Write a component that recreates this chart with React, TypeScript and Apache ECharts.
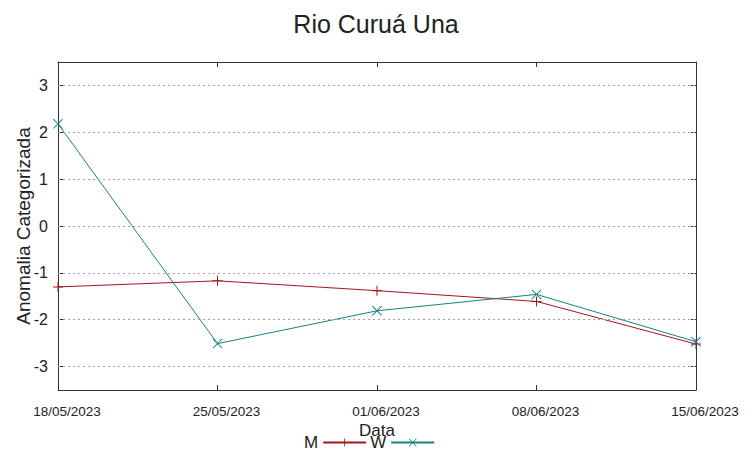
import React, { useEffect, useRef } from "react";
import * as echarts from "echarts";

const categories = ["18/05/2023", "25/05/2023", "01/06/2023", "08/06/2023", "15/06/2023"];
const seriesM = [-1.3, -1.17, -1.38, -1.61, -2.52];
const seriesW = [2.18, -2.51, -1.81, -1.46, -2.47];
const yTicks = [-3, -2, -1, 0, 1, 2, 3];

const PLUS = "path://M0,4.5H10V5.5H0Z M4.5,0H5.5V10H4.5Z";
const CROSS =
  "path://M0,0.7L0.7,0L5,4.3L9.3,0L10,0.7L5.7,5L10,9.3L9.3,10L5,5.7L0.7,10L0,9.3L4.3,5Z";

const FONT = "Liberation Sans, Arial, sans-serif";
const AXIS_COLOR = "#333";

export default function App() {
  const ref = useRef<HTMLDivElement>(null);
  useEffect(() => {
    if (!ref.current) return;
    const chart = echarts.init(ref.current, null, { renderer: "svg" });
    chart.setOption({
      animation: false,
      backgroundColor: "#fff",
      textStyle: { fontFamily: FONT },
      title: {
        text: "Rio Curuá Una",
        left: "center",
        top: 6,
        textStyle: { fontSize: 25, fontWeight: "normal", color: "#222", fontFamily: FONT },
      },
      legend: {
        bottom: 3,
        left: 299,
        align: "right",
        itemWidth: 43,
        itemHeight: 10,
        itemGap: 3,
        textStyle: { fontSize: 17, color: "#222", fontFamily: FONT },
        data: ["M", "W"],
      },
      grid: { left: 58, right: 56, top: 62, bottom: 69, containLabel: false, outerBoundsMode: "none" },
      xAxis: [
        {
          type: "category",
          data: categories,
          boundaryGap: false,
          name: "Data",
          nameLocation: "middle",
          nameGap: 32,
          nameMoveOverlap: false,
          nameTextStyle: { fontSize: 17, color: "#222", fontFamily: FONT },
          axisLine: { onZero: false, lineStyle: { color: AXIS_COLOR, width: 1 } },
          axisTick: { inside: true, length: 5, lineStyle: { color: AXIS_COLOR } },
          axisLabel: {
            fontSize: 13.5,
            color: "#222",
            margin: 14,
            padding: [0, 0, 0, 18],
            fontFamily: FONT,
            interval: 0,
          },
          splitLine: { show: false },
        },
        {
          type: "category",
          data: categories,
          boundaryGap: false,
          position: "top",
          axisLine: { onZero: false, lineStyle: { color: AXIS_COLOR, width: 1 } },
          axisTick: { inside: true, length: 5, lineStyle: { color: AXIS_COLOR } },
          axisLabel: { show: false },
          splitLine: { show: false },
        },
      ],
      yAxis: [
        {
          type: "value",
          min: -3.5,
          max: 3.5,
          name: "Anomalia Categorizada",
          nameLocation: "middle",
          nameGap: 25,
          nameMoveOverlap: false,
          nameTextStyle: { fontSize: 19, color: "#222", fontFamily: FONT },
          axisLine: { show: true, onZero: false, lineStyle: { color: AXIS_COLOR, width: 1 } },
          axisTick: { show: true, inside: true, length: 5, customValues: yTicks, lineStyle: { color: AXIS_COLOR } },
          axisLabel: { fontSize: 16, color: "#222", margin: 10, customValues: yTicks, fontFamily: FONT },
          splitLine: { show: false },
        },
        {
          type: "value",
          min: -3.5,
          max: 3.5,
          position: "right",
          axisLine: { show: true, onZero: false, lineStyle: { color: AXIS_COLOR, width: 1 } },
          axisTick: { show: true, inside: true, length: 5, customValues: yTicks, lineStyle: { color: AXIS_COLOR } },
          axisLabel: { show: false },
          splitLine: { show: false },
        },
      ],
      series: [
        {
          name: "M",
          type: "line",
          data: seriesM,
          symbol: PLUS,
          symbolSize: 10,
          lineStyle: { color: "#a3161a", width: 1 },
          itemStyle: { color: "#a3161a" },
          markLine: {
            silent: true,
            symbol: ["none", "none"],
            label: { show: false },
            lineStyle: { color: "#a0a0a0", type: [2, 3], width: 1 },
            data: yTicks.map((v) => ({ yAxis: v })),
          },
          z: 3,
        },
        {
          name: "W",
          type: "line",
          data: seriesW,
          symbol: CROSS,
          symbolSize: 10,
          lineStyle: { color: "#178282", width: 1 },
          itemStyle: { color: "#178282" },
          z: 4,
        },
      ],
    });
    return () => chart.dispose();
  }, []);
  return (
    <div
      ref={ref}
      style={{ position: "fixed", left: 0, top: 0, width: 752, height: 459, background: "#fff" }}
    />
  );
}
